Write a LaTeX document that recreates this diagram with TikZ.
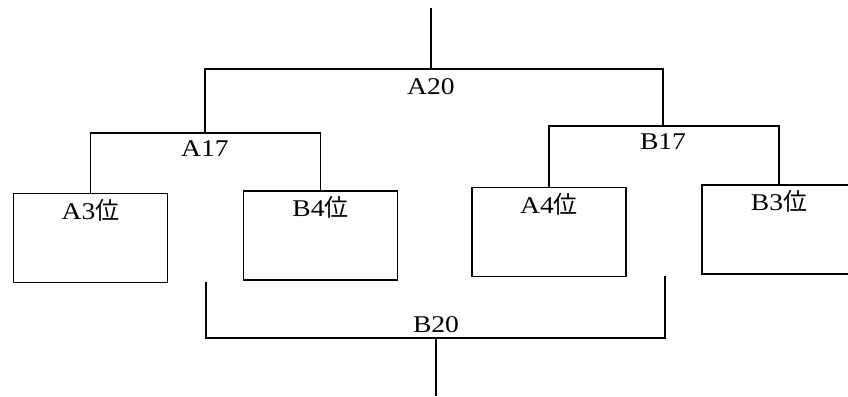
\documentclass[tikz,border=0pt]{standalone}
\usepackage{fontspec}
\setmainfont{Liberation Serif}[FakeStretch=1.15]
\newfontfamily\cjk{Noto Sans CJK JP}
\usetikzlibrary{positioning}

\begin{document}
\begin{tikzpicture}[x=1pt, y=-1pt,
  seat/.style={draw, line width=1.2pt, minimum width=154pt, minimum height=89pt, inner sep=0pt},
  tag/.style={font=\fontsize{24}{26}\selectfont, inner sep=2pt},
  wire/.style={line width=1.2pt}
]
\useasboundingbox (0,0) rectangle (848,396);
\clip (0,0) rectangle (848,396);

% the four seats
\node[seat] (a3) at (90.5,238)  {};
\node[seat] (b4) at (320.5,235.5) {};
\node[seat] (a4) at (549,232)   {};
\node[seat] (b3) at (779,229.5) {};
\node[tag, below=4pt of a3.north] (a3t) {A3{\cjk 位}};
\node[tag, below=4pt of b4.north] (b4t) {B4{\cjk 位}};
\node[tag, below=4pt of a4.north] (a4t) {A4{\cjk 位}};
\node[tag, below=4pt of b3.north] (b3t) {B3{\cjk 位}};

% junctions of the brackets
\coordinate (a17) at (205,133);
\coordinate (b17) at (663,126);
\coordinate (a20) at (431,69);
\coordinate (top) at (431,8);
\coordinate (b20) at (436,338);
\coordinate (bot) at (436,396);
\coordinate (b20l) at (206,282);
\coordinate (b20r) at (665,276);

\node[tag, below=5pt of a17] (a17t) {A17};
\node[tag, below=5pt of b17] (b17t) {B17};
\node[tag, below=7pt of a20] (a20t) {A20};
\node[tag, above=3pt of b20] (b20t) {B20};

\draw[wire] (a3.north) |- (a17) -| (b4.north);
\draw[wire] (a4.north) |- (b17) -| (b3.north);
\draw[wire] (a17) |- (a20) -| (b17);
\draw[wire] (a20) -- (top);
\draw[wire] (b20l) |- (b20) -| (b20r);
\draw[wire] (b20) -- (bot);
\end{tikzpicture}
\end{document}
